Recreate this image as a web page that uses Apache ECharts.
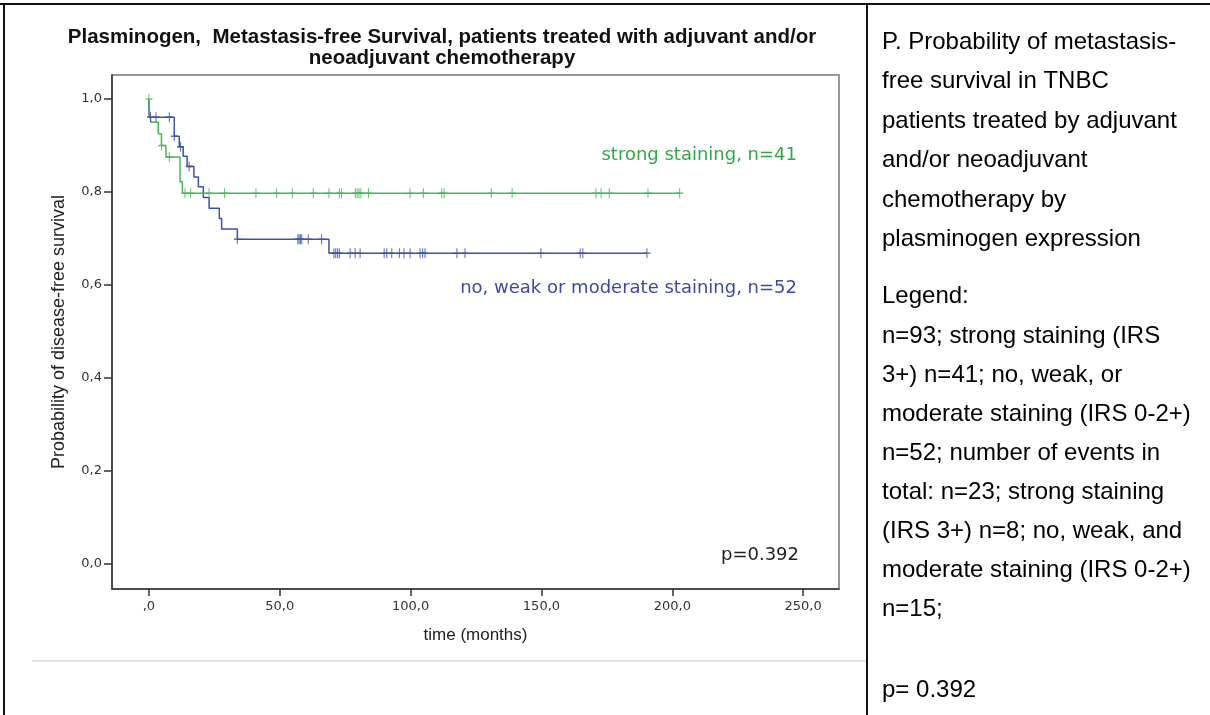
<!DOCTYPE html>
<html>
<head>
<meta charset="utf-8">
<script src="https://cdn.jsdelivr.net/npm/echarts@6/dist/echarts.min.js"></script>
<style>
  html, body { margin: 0; padding: 0; background: #fff; }
  #chart { width: 1210px; height: 715px; }
</style>
</head>
<body>
<div id="chart"></div>
<script>
// Kaplan-Meier curves: metastasis-free survival by plasminogen staining
const titleLines = [
  'Plasminogen,  Metastasis-free Survival, patients treated with adjuvant and/or',
  'neoadjuvant chemotherapy'
];
const xTickValues = [0, 50, 100, 150, 200, 250];
const xTickLabels = [',0', '50,0', '100,0', '150,0', '200,0', '250,0'];
const yTickValues = [0, 0.2, 0.4, 0.6, 0.8, 1.0];
const yTickLabels = ['0,0', '0,2', '0,4', '0,6', '0,8', '1,0'];

// strong staining (IRS 3+), n=41 : step times (months) and survival after each step
const strongTimes = [0, 0.2, 0.8, 3.6, 4.8, 6.5, 11.9, 12.8, 203];
const strongSurv  = [1.0, 0.975, 0.950, 0.925, 0.900, 0.875, 0.822, 0.797, 0.797];
const strongCensored = [0, 4.8, 7.8, 13.8, 15.9, 23.0, 28.9, 40.9, 48.8, 54.8, 62.8, 68.8,
  72.8, 73.6, 78.9, 79.6, 80.3, 81.0, 83.9, 99.8, 104.9, 111.9, 112.8, 130.8, 138.8,
  170.8, 172.8, 175.9, 190.7, 202.8];

// no, weak or moderate staining (IRS 0-2+), n=52
const weakTimes = [0, 0.1, 9.7, 11.6, 13.1, 14.6, 17.2, 18.9, 20.8, 23.0, 26.9, 27.8, 33.8, 68.8, 190.3];
const weakSurv  = [1.0, 0.961, 0.920, 0.897, 0.877, 0.855, 0.832, 0.811, 0.788, 0.765, 0.743, 0.720, 0.698, 0.668, 0.668];
const weakCensored = [0.6, 2.7, 7.8, 9.7, 12.1, 15.4, 33.8, 56.9, 57.4, 57.9, 58.4, 60.9, 66.0,
  70.7, 71.4, 72.1, 72.8, 76.9, 78.8, 80.7, 89.9, 90.9, 92.8, 95.7, 97.5, 99.8, 103.6,
  104.6, 105.5, 117.7, 120.8, 149.8, 164.8, 165.8, 190.3];

const strongLabel = 'strong staining, n=41';
const weakLabel = 'no, weak or moderate staining, n=52';
const pLabel = 'p=0.392';

// caption column
const captionPara1 = [
  'P. Probability of metastasis-',
  'free survival in TNBC',
  'patients treated by adjuvant',
  'and/or neoadjuvant',
  'chemotherapy by',
  'plasminogen expression'
];
const captionPara2 = ['Legend:'];
const captionPara3 = [
  'n=93; strong staining (IRS',
  '3+) n=41; no, weak, or',
  'moderate staining (IRS 0-2+)',
  'n=52; number of events in',
  'total: n=23; strong staining',
  '(IRS 3+) n=8; no, weak, and',
  'moderate staining (IRS 0-2+)',
  'n=15;'
];
const captionPara4 = ['p= 0.392'];

const GREEN = '#48b658';
const BLUE = '#3d52a9';

function stepPairs(times, surv) {
  return times.map((t, i) => [t, surv[i]]);
}
function survivalAt(times, surv, t) {
  let s = surv[0];
  for (let i = 0; i < times.length; i++) { if (times[i] <= t) s = surv[i]; }
  return s;
}
function censorPairs(cens, times, surv) {
  return cens.map(t => [t, survivalAt(times, surv, t)]);
}

const PLUS = 'path://M5,0 L5,10 M0,5 L10,5';

const chart = echarts.init(document.getElementById('chart'), null, { renderer: 'canvas' });

const graphics = [];
const FRAME = '#111';
// table rules around the figure and caption
graphics.push({ type: 'line', shape: { x1: 0, y1: 4, x2: 1210, y2: 4 }, style: { stroke: FRAME, lineWidth: 2 } });
graphics.push({ type: 'line', shape: { x1: 4, y1: 3, x2: 4, y2: 715 }, style: { stroke: FRAME, lineWidth: 2 } });
graphics.push({ type: 'line', shape: { x1: 867, y1: 3, x2: 867, y2: 715 }, style: { stroke: FRAME, lineWidth: 2 } });
graphics.push({ type: 'line', shape: { x1: 32, y1: 661, x2: 866, y2: 661 }, style: { stroke: '#dcdcdc', lineWidth: 1.5 } });

titleLines.forEach((t, i) => {
  graphics.push({ type: 'text', x: 442, y: 37 + i * 21,
    style: { text: t, fill: '#111', font: 'bold 20.5px "Liberation Sans", Arial, sans-serif', align: 'center', verticalAlign: 'middle' } });
});

const annFont = '18px "DejaVu Sans", sans-serif';
graphics.push({ type: 'text', x: 797, y: 155, style: { text: strongLabel, fill: '#2fa84a', font: annFont, align: 'right', verticalAlign: 'middle' } });
graphics.push({ type: 'text', x: 797, y: 288, style: { text: weakLabel, fill: '#3a4aa6', font: annFont, align: 'right', verticalAlign: 'middle' } });
graphics.push({ type: 'text', x: 799, y: 555, style: { text: pLabel, fill: '#222', font: annFont, align: 'right', verticalAlign: 'middle' } });

const capFont = '24px "Liberation Sans", Arial, sans-serif';
function addPara(lines, y0, step) {
  lines.forEach((t, i) => {
    graphics.push({ type: 'text', x: 882, y: y0 + i * step,
      style: { text: t, fill: '#000', font: capFont, align: 'left', verticalAlign: 'middle' } });
  });
}
addPara(captionPara1, 42, 39.5);
addPara(captionPara2, 296, 39);
addPara(captionPara3, 336, 39);
addPara(captionPara4, 690, 39);

const option = {
  animation: false,
  backgroundColor: '#fff',
  grid: { left: 112, top: 75, width: 727, height: 514, show: true, borderColor: '#777', borderWidth: 1.5, containLabel: false },
  xAxis: {
    type: 'value', min: -14.1, max: 263.7,
    name: 'time (months)', nameLocation: 'middle', nameGap: 38,
    nameTextStyle: { fontFamily: '"Liberation Sans", Arial, sans-serif', fontSize: 17, color: '#222' },
    axisLine: { show: true, onZero: false, lineStyle: { color: '#333', width: 1.5 } },
    axisTick: { show: true, inside: false, length: 7, customValues: xTickValues, lineStyle: { color: '#333', width: 1.5 } },
    axisLabel: { show: true, margin: 11, customValues: xTickValues, fontFamily: '"DejaVu Sans", sans-serif', fontSize: 13, color: '#333',
      formatter: v => { const i = xTickValues.indexOf(v); return i >= 0 ? xTickLabels[i] : ''; } },
    splitLine: { show: false }
  },
  yAxis: {
    type: 'value', min: -0.0547, max: 1.0517,
    name: 'Probability of disease-free survival', nameLocation: 'middle', nameGap: 44, nameRotate: 90,
    nameTextStyle: { fontFamily: '"Liberation Sans", Arial, sans-serif', fontSize: 18, color: '#222' },
    axisLine: { show: true, onZero: false, lineStyle: { color: '#333', width: 1.5 } },
    axisTick: { show: true, inside: false, length: 8, customValues: yTickValues, lineStyle: { color: '#333', width: 1.5 } },
    axisLabel: { show: true, margin: 10, customValues: yTickValues, fontFamily: '"DejaVu Sans", sans-serif', fontSize: 13, color: '#333',
      formatter: v => { const i = yTickValues.findIndex(u => Math.abs(u - v) < 1e-6); return i >= 0 ? yTickLabels[i] : ''; } },
    splitLine: { show: false }
  },
  series: [
    { name: strongLabel, type: 'line', step: 'end', showSymbol: false, z: 3,
      lineStyle: { color: GREEN, width: 1.5 }, data: stepPairs(strongTimes, strongSurv) },
    { name: weakLabel, type: 'line', step: 'end', showSymbol: false, z: 2,
      lineStyle: { color: BLUE, width: 1.5 }, data: stepPairs(weakTimes, weakSurv) },
    { name: strongLabel + ' censored', type: 'scatter', symbol: PLUS, symbolSize: [7, 10], z: 4,
      itemStyle: { color: 'none', borderColor: GREEN, borderWidth: 1.3 },
      data: censorPairs(strongCensored, strongTimes, strongSurv) },
    { name: weakLabel + ' censored', type: 'scatter', symbol: PLUS, symbolSize: [7, 10], z: 3,
      itemStyle: { color: 'none', borderColor: BLUE, borderWidth: 1.3 },
      data: censorPairs(weakCensored, weakTimes, weakSurv) }
  ],
  graphic: graphics
};
chart.setOption(option);
</script>
</body>
</html>
